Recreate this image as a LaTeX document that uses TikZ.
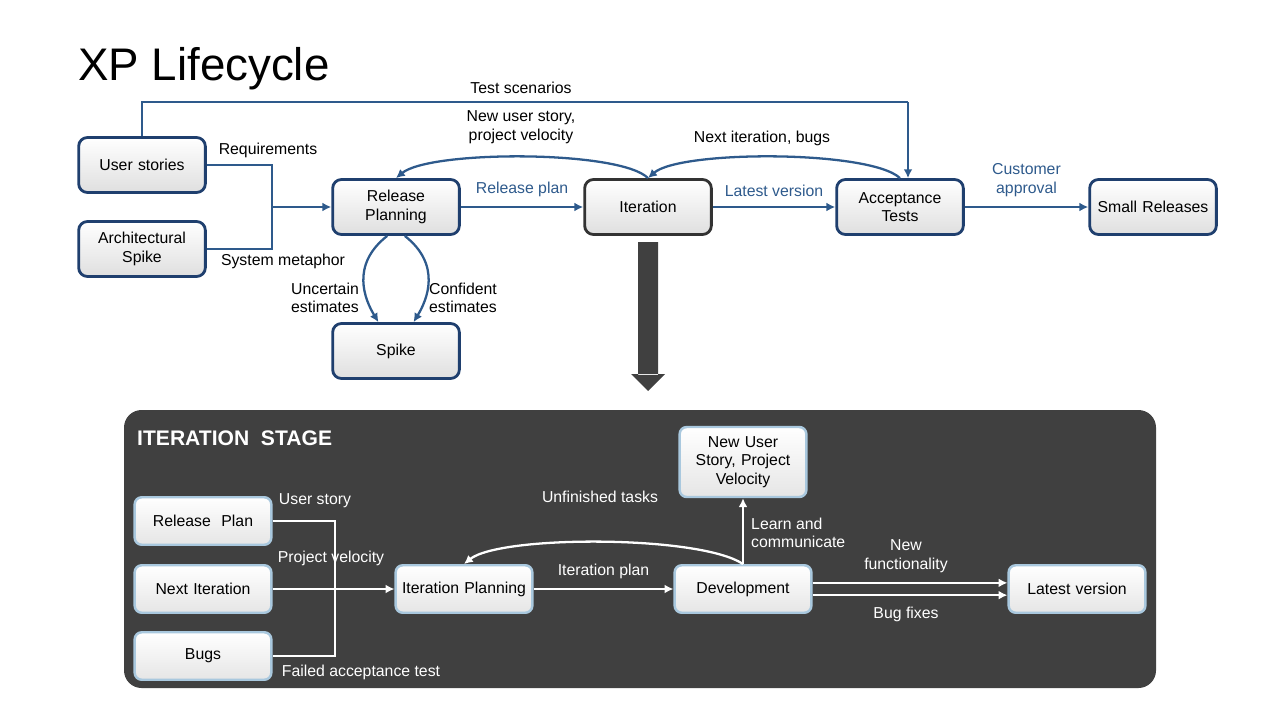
\documentclass[tikz,border=0pt]{standalone}
\usepackage{fontspec}
\setmainfont{Liberation Sans}
\usetikzlibrary{arrows.meta,positioning}
\definecolor{boxblue}{HTML}{1F3F6E}
\definecolor{lineblue}{HTML}{2E5A8C}
\definecolor{stagegray}{HTML}{404040}
\definecolor{lightrim}{HTML}{A9C8DE}
\tikzset{
  phase/.style={draw=boxblue, line width=1.6pt, rounded corners=5pt, top color=white, bottom color=gray!25,
    minimum width=2.5cm, minimum height=1.1cm, text width=2.3cm, align=center, font=\fontsize{9}{10.5}\selectfont},
  subphase/.style={draw=lightrim, line width=1.4pt, rounded corners=4pt, top color=white, bottom color=gray!20,
    minimum width=2.6cm, minimum height=0.95cm, text width=2.5cm, align=center, font=\fontsize{9}{10.5}\selectfont},
  flow/.style={lineblue, line width=1.3pt, -{Latex[length=5pt,width=5pt]}},
  wflow/.style={white, line width=1.3pt, -{Latex[length=5pt,width=5pt]}},
  lbl/.style={font=\fontsize{9}{10.5}\selectfont, align=center},
  wlbl/.style={lbl, text=white}
}
\begin{document}
\begin{tikzpicture}[x=0.02cm, y=-0.02cm]
	\useasboundingbox (0,0) rectangle (1280,720);
	% title
	\node[anchor=west, font=\fontsize{26}{30}\selectfont] (title) at (72,69) {XP Lifecycle};
	% upper flow
	\node[phase] (stories) at (142,165) {User stories};
	\node[phase] (arch) at (142,249) {Architectural Spike};
	\node[phase] (rplan) at (396,207) {Release Planning};
	\node[phase, draw=black!80] (iter) at (648,207) {Iteration};
	\node[phase] (accept) at (900,207) {Acceptance Tests};
	\node[phase] (small) at (1153,207) {Small Releases};
	\node[phase] (spike) at (396,351) {Spike};
	\coordinate (join) at (272,207);
	\draw[lineblue, line width=1.3pt] (stories.east) -| (join) |- (arch.east);
	\draw[flow] (join) -- (rplan.west);
	\node[lbl] (req) at (268,150) {Requirements};
	\node[lbl] (meta) at (283,261) {System metaphor};
	\draw[flow] (rplan) -- node[lbl, above=2pt] {Release plan} (iter);
	\draw[flow] (iter) -- node[lbl, above=2pt] {Latest version} (accept);
	\draw[flow] (accept) -- node[lbl, above=2pt] {Customer\\approval} (small);
	\coordinate (ts1) at (142,102);
	\coordinate (ts2) at (908,102);
	\draw[lineblue, line width=1.3pt] (stories.north) -- (ts1) -- (ts2);
	\draw[flow] (ts2) -- (accept.north -| ts2);
	\node[lbl] (tslbl) at (521,88) {Test scenarios};
	\draw[flow] (iter.north) .. controls (620,150) and (430,150) .. (rplan.north);
	\node[lbl] (nus) at (521,127) {New user story,\\project velocity};
	\draw[flow] (accept.north) .. controls (870,150) and (680,150) .. (iter.north);
	\node[lbl] (nib) at (762,138) {Next iteration, bugs};
	\draw[flow] ([xshift=-5pt]rplan.south) .. controls (350,265) and (365,300) .. ([xshift=-10pt]spike.north);
	\draw[flow] ([xshift=5pt]rplan.south) .. controls (442,265) and (427,300) .. ([xshift=10pt]spike.north);
	\node[lbl] (unc) at (325,298) {Uncertain\\estimates};
	\node[lbl] (conf) at (463,298) {Confident\\estimates};
	% big arrow
	\fill[stagegray] (638,242) rectangle (658,375) (631,374) -- (665,374) -- (648,391) -- cycle;
	% iteration stage
	\fill[stagegray, rounded corners=10pt] (124,410) rectangle (1156,688);
	\node[anchor=west, text=white, font=\fontsize{12}{14}\bfseries\selectfont] (stage) at (131,438) {ITERATION\ \ STAGE};
	\node[subphase] (rp) at (203,521) {Release\ \ Plan};
	\node[subphase] (ni) at (203,589) {Next\ Iteration};
	\node[subphase] (bugs) at (203,656) {Bugs};
	\node[subphase] (ip) at (464,589) {Iteration Planning};
	\node[subphase] (dev) at (743,589) {Development};
	\node[subphase] (latest) at (1077,589) {Latest version};
	\node[subphase, minimum width=2.5cm, minimum height=1.4cm, text width=2.3cm] (nusp) at (743,462) {New User Story, Project Velocity};
	\coordinate (bar) at (335,589);
	\draw[white, line width=1.3pt] (rp.east) -| (bar) |- (bugs.east);
	\draw[wflow] (ni) -- (ip);
	\node[wlbl] (us) at (315,501) {User story};
	\node[wlbl] (pv) at (331,558) {Project velocity};
	\node[wlbl] (fat) at (361,672) {Failed acceptance test};
	\draw[wflow] (ip) -- node[wlbl, above=2pt] {Iteration plan} (dev);
	\draw[wflow] (dev.north) .. controls (700,535) and (500,535) .. (ip.north);
	\node[wlbl] (ut) at (600,497) {Unfinished tasks};
	\draw[wflow] (dev) -- (nusp);
	\node[wlbl, anchor=west, align=left] (lc) at (745,533) {Learn and\\communicate};
	\draw[wflow] ([yshift=3.5pt]dev.east) -- ([yshift=3.5pt]latest.west);
	\draw[wflow] ([yshift=-3.5pt]dev.east) -- ([yshift=-3.5pt]latest.west);
	\node[wlbl] (nf) at (906,556) {New\\functionality};
	\node[wlbl] (bf) at (906,614) {Bug fixes};
\end{tikzpicture}
\end{document}
